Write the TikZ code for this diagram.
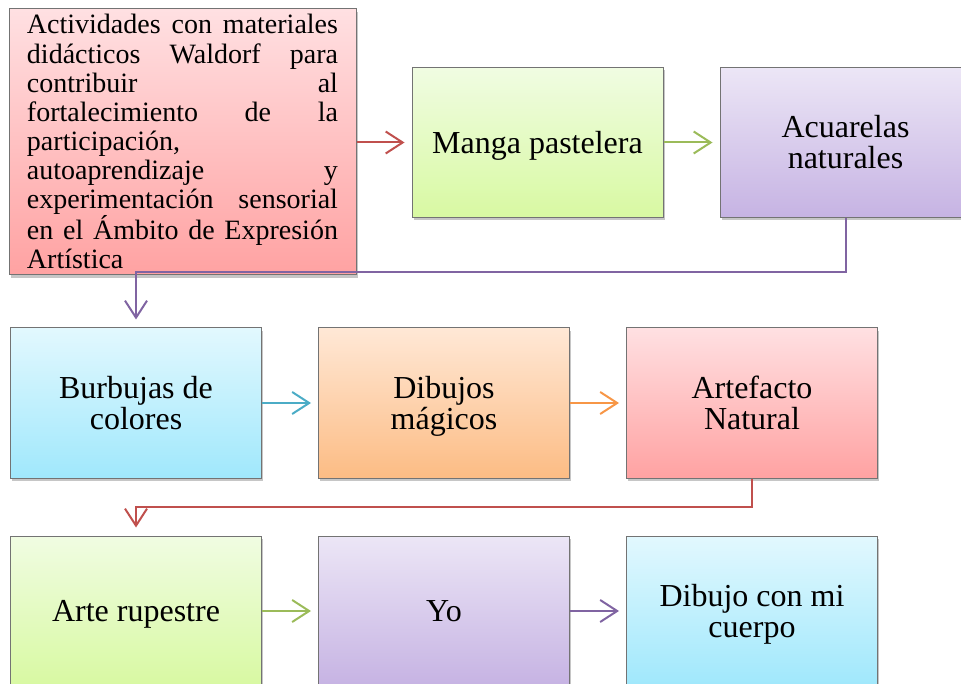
\documentclass[tikz,border=0pt]{standalone}
\usepackage{fontspec}
\setmainfont{Liberation Serif}
\usetikzlibrary{arrows.meta,shadows}
\definecolor{redT}{HTML}{FFE0E2}\definecolor{redB}{HTML}{FFA2A2}
\definecolor{grnT}{HTML}{F0FCE2}\definecolor{grnB}{HTML}{D8F9A2}
\definecolor{purT}{HTML}{ECE6F6}\definecolor{purB}{HTML}{C6B3E3}
\definecolor{bluT}{HTML}{E2F8FE}\definecolor{bluB}{HTML}{A0E8FC}
\definecolor{orgT}{HTML}{FFE8D6}\definecolor{orgB}{HTML}{FCBC84}
\definecolor{redL}{HTML}{C0504D}\definecolor{grnL}{HTML}{9BBB59}
\definecolor{purL}{HTML}{8064A2}\definecolor{bluL}{HTML}{4BACC6}
\definecolor{orgL}{HTML}{F79646}
\newcommand\topst{\rule{0pt}{28.5pt}}
\newcommand\botst{\rule[-6.9pt]{0pt}{6.9pt}}
\newcommand\topsm{\rule{0pt}{24.9pt}}
\newcommand\botsm{\rule[-6.05pt]{0pt}{6.05pt}}
\newcommand\jline[1]{\makebox[311pt][s]{#1}}
\newcommand\lline[1]{\makebox[311pt][l]{#1}}
\tikzset{
  card/.style={draw=black!55, line width=1pt, inner sep=0pt, align=center,
    minimum width=251pt, minimum height=150pt,
    font=\fontsize{32}{31}\selectfont,
    drop shadow={opacity=0.45, shadow xshift=1.5pt, shadow yshift=-3pt}},
  redbox/.style={card, top color=redT, bottom color=redB},
  grnbox/.style={card, top color=grnT, bottom color=grnB},
  purbox/.style={card, top color=purT, bottom color=purB},
  blubox/.style={card, top color=bluT, bottom color=bluB},
  orgbox/.style={card, top color=orgT, bottom color=orgB},
  conn/.style={line width=2pt, -{Straight Barb[length=17pt,width=22pt,line width=2pt]}, shorten >=7pt},
}
\begin{document}
\begin{tikzpicture}[x=1pt,y=-1pt]
\useasboundingbox (0,0) rectangle (961,684);
% row 1
\node[redbox, minimum width=347pt, minimum height=256pt,
      font=\fontsize{28}{29.15}\selectfont] (a) at (182.5,142)
  {\topsm\jline{Actividades con materiales}\\
   \jline{didácticos Waldorf para}\\
   \jline{contribuir al}\\
   \jline{fortalecimiento de la}\\
   \lline{participación,}\\
   \jline{autoaprendizaje y}\\
   \jline{experimentación sensorial}\\
   \jline{en el Ámbito de Expresión}\\
   \lline{Artística}\botsm};
\node[grnbox] (b) at (537.5,142.5) {\topst Manga pastelera\botst};
\node[purbox] (c) at (845.5,142.5) {\topst Acuarelas\\naturales\botst};
% row 2
\node[blubox] (d) at (136,403) {\topst Burbujas de\\colores\botst};
\node[orgbox] (e) at (444,403) {\topst Dibujos\\mágicos\botst};
\node[redbox] (f) at (752,403) {\topst Artefacto\\Natural\botst};
% row 3
\node[grnbox] (g) at (136,611) {\topst Arte rupestre\botst};
\node[purbox] (h) at (444,611) {\topst Yo\botst};
\node[blubox] (i) at (752,611) {\topst Dibujo con mi\\cuerpo\botst};
% connectors
\draw[conn, redL] (a.east |- b.west) -- (b.west);
\draw[conn, grnL] (b) -- (c);
\coordinate (k1) at (845.5,272);
\coordinate (k2) at (136,272);
\draw[conn, purL, shorten >=8pt] (c.south) -- (k1) -- (k2) -- (d.north);
\draw[conn, bluL] (d) -- (e);
\draw[conn, orgL] (e) -- (f);
\coordinate (k3) at (752,507);
\coordinate (k4) at (136,507);
\draw[conn, redL, shorten >=8pt] (f.south) -- (k3) -- (k4) -- (g.north);
\draw[conn, grnL] (g) -- (h);
\draw[conn, purL] (h) -- (i);
\end{tikzpicture}
\end{document}
